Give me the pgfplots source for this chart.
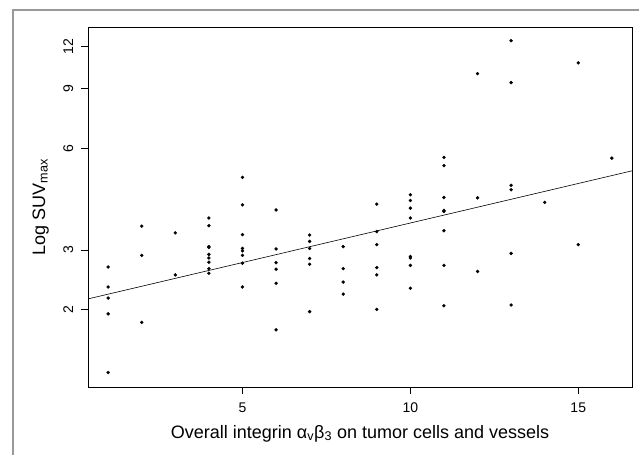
\documentclass[border=0pt]{standalone}
\usepackage{fontspec}
\setmainfont{Liberation Sans}
\usepackage{pgfplots}
\pgfplotsset{compat=1.18}

\pgfplotstableread{
x y
1 2.67
1 2.33
1 2.16
1 1.94
1 1.30
2 3.53
2 2.89
2 1.83
3 3.37
3 2.53
4 3.73
4 3.54
4 3.07
4 3.05
4 2.91
4 2.84
4 2.76
4 2.64
4 2.56
5 4.92
5 4.08
5 3.33
5 3.03
5 2.98
5 2.89
5 2.74
5 2.33
6 3.94
6 3.02
6 2.75
6 2.63
6 2.39
6 1.74
7 3.32
7 3.18
7 3.03
7 2.83
7 2.72
7 1.97
8 3.07
8 2.64
8 2.41
8 2.22
9 4.10
9 3.40
9 3.11
9 2.66
9 2.53
9 2.00
10 4.37
10 4.20
10 3.99
10 3.73
10 2.87
10 2.84
10 2.70
10 2.31
11 5.64
11 5.33
11 4.29
11 3.93
11 3.90
11 3.42
11 2.70
11 2.05
12 9.98
12 4.28
12 2.59
13 12.50
13 9.39
13 4.66
13 4.52
13 2.93
13 2.06
14 4.15
15 10.74
15 3.11
16 5.61
}\suvdata

\begin{document}
\begin{tikzpicture}
% page frame of the original figure
\useasboundingbox (-88pt,-68pt) rectangle (551pt,387pt);
\draw[black!40, line width=1.4pt] (-75pt,-68pt) -- (-75pt,377pt) -- (551pt,377pt);

\begin{axis}[
    scale only axis,
    width=544pt, height=360pt,
    ymode=log,
    xmin=0.4, xmax=16.6,
    ymin=1.178, ymax=13.72,
    axis line style={line width=0.8pt},
    tick align=outside,
    xtick pos=left, ytick pos=left,
    major tick length=7pt,
    tick style={line width=0.7pt, black},
    xtick={5,10,15}, xticklabels={5,10,15},
    ytick={2,3,6,9,12}, yticklabels={2,3,6,9,12},
    minor ytick={},
    xticklabel style={font=\fontsize{14}{16}\selectfont, inner sep=0pt},
    xticklabel shift=9pt,
    yticklabel style={font=\fontsize{14}{16}\selectfont, inner sep=0pt, rotate=90, anchor=base},
    yticklabel shift=8pt,
    xlabel={Overall integrin α\textsubscript{v}β\textsubscript{3} on tumor cells and vessels},
    ylabel={Log SUV\textsubscript{max}},
    x label style={font=\fontsize{18}{20}\selectfont, at={(axis description cs:0.5,-0.1417)}, anchor=base},
    y label style={font=\fontsize{18}{20}\selectfont, at={(axis description cs:-0.079,0.5)}, anchor=base},
    clip=true,
]
\addplot[only marks, mark=*, mark size=1.5pt, black] table[x=x, y=y] {\suvdata};
\addplot[black, line width=0.6pt] coordinates {(0.4,2.148) (16.6,5.145)};
\end{axis}
\end{tikzpicture}
\end{document}
